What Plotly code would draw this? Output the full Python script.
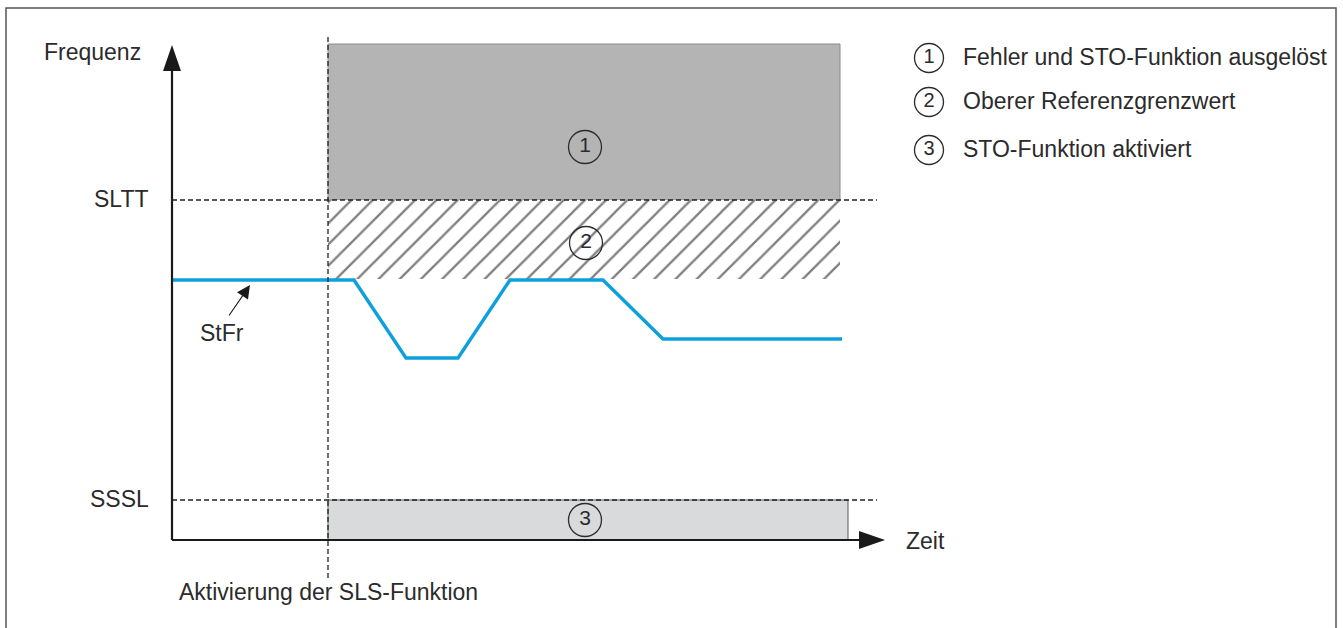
import plotly.graph_objects as go

# ---- data (time units / frequency units; 1 unit ~ 1 px) ----
stfr_t = [0, 182, 234, 286, 338, 431, 491, 670]
stfr_f = [260, 260, 182, 182, 260, 260, 201, 201]

SLTT = 340          # upper limit
SSSL = 40           # standstill limit
T_ACT = 156         # activation of SLS function
T_BAND_END = 668    # end of zones 1 and 2
T_ZONE3_END = 676   # end of zone 3
F_ZONE1_TOP = 496
F_ZONE2_BOTTOM = 261
T_REF_END = 705

level_labels = ["SLTT", "SSSL"]
level_values = [SLTT, SSSL]

zone_ids = ["1", "2", "3"]
zone_t = [413, 414, 413]
zone_f = [393, 297, 20]

legend_ids = ["1", "2", "3"]
legend_texts = ["Fehler und STO-Funktion ausgelöst",
                "Oberer Referenzgrenzwert",
                "STO-Funktion aktiviert"]
legend_f = [482, 438, 390]
LEGEND_T = 757

FONT = "Liberation Sans, Arial, sans-serif"
TXT = "#2b2b2b"
FS = 23

fig = go.Figure()

# zone 1 (dark grey)
fig.add_shape(type="rect", x0=T_ACT, x1=T_BAND_END, y0=SLTT, y1=F_ZONE1_TOP,
              fillcolor="#b3b4b3", line=dict(color="#8c8c8c", width=1), layer="below")
# zone 3 (light grey)
fig.add_shape(type="rect", x0=T_ACT, x1=T_ZONE3_END, y0=0, y1=SSSL,
              fillcolor="#d9dadb", line=dict(color="#5a5a5a", width=1), layer="below")

# zone 2 hatched
fig.add_trace(go.Scatter(
    x=[T_ACT, T_BAND_END, T_BAND_END, T_ACT, T_ACT],
    y=[SLTT, SLTT, F_ZONE2_BOTTOM, F_ZONE2_BOTTOM, SLTT],
    mode="lines", line=dict(width=0), fill="toself",
    fillcolor="white",
    fillpattern=dict(shape="/", fgcolor="#000000", bgcolor="white",
                     size=15, solidity=0.15),
    hoverinfo="skip", showlegend=False))

# StFr line
fig.add_trace(go.Scatter(x=stfr_t, y=stfr_f, mode="lines",
                         line=dict(color="#0ea0dd", width=3.4),
                         showlegend=False, hoverinfo="skip"))

# circled numbers in zones
fig.add_trace(go.Scatter(x=zone_t, y=zone_f, mode="markers+text",
                         text=zone_ids, textposition="middle center",
                         textfont=dict(family=FONT, size=21, color=TXT),
                         marker=dict(symbol="circle-open", size=33,
                                     color="#2b2b2b", line=dict(width=1.3)),
                         showlegend=False, hoverinfo="skip"))

# legend circles + text
fig.add_trace(go.Scatter(x=[LEGEND_T] * 3, y=legend_f, mode="markers+text",
                         text=legend_ids, textposition="middle center",
                         textfont=dict(family=FONT, size=20, color=TXT),
                         marker=dict(symbol="circle-open", size=29,
                                     color="#2b2b2b", line=dict(width=1.3)),
                         showlegend=False, hoverinfo="skip"))
for txt, f in zip(legend_texts, legend_f):
    fig.add_annotation(x=LEGEND_T + 32, y=f + 1, text=txt, showarrow=False,
                       xanchor="left", yanchor="middle",
                       font=dict(family=FONT, size=FS, color=TXT))

# dashed reference lines
for v in level_values:
    fig.add_shape(type="line", x0=0, x1=T_REF_END, y0=v, y1=v,
                  line=dict(color="#222", width=1.3, dash="5px,3px"))
fig.add_shape(type="line", x0=T_ACT, x1=T_ACT, y0=-38, y1=504,
              line=dict(color="#222", width=1.3, dash="5px,3px"))

# axes
Y_TOP, X_END, HEAD, HW = 495, 713, 26, 9
fig.add_shape(type="line", x0=0, x1=0, y0=0, y1=Y_TOP - HEAD,
              line=dict(color="#1a1a1a", width=2.2))
fig.add_shape(type="line", x0=0, x1=X_END - HEAD, y0=0, y1=0,
              line=dict(color="#1a1a1a", width=2.2))
fig.add_shape(type="path",
              path=f"M 0,{Y_TOP} L {-HW},{Y_TOP-HEAD} L {HW},{Y_TOP-HEAD} Z",
              fillcolor="#1a1a1a", line=dict(width=0))
fig.add_shape(type="path",
              path=f"M {X_END},0 L {X_END-HEAD},{-HW} L {X_END-HEAD},{HW} Z",
              fillcolor="#1a1a1a", line=dict(width=0))

# border
fig.add_shape(type="rect", x0=-166, x1=1164, y0=-120, y1=532,
              line=dict(color="#555", width=1.5), fillcolor="rgba(0,0,0,0)")

# labels
fig.add_annotation(x=-80, y=488, text="Frequenz", showarrow=False,
                   font=dict(family=FONT, size=FS, color=TXT))
for lab, v in zip(level_labels, level_values):
    fig.add_annotation(x=-21, y=v + 1, text=lab, showarrow=False,
                       xanchor="right", yanchor="middle",
                       font=dict(family=FONT, size=FS, color=TXT))
fig.add_annotation(x=732, y=-1, text="Zeit", showarrow=False,
                   xanchor="left", yanchor="middle",
                   font=dict(family=FONT, size=FS, color=TXT))
fig.add_annotation(x=5, y=-52, text="Aktivierung der SLS-Funktion", showarrow=False,
                   xanchor="left", yanchor="middle",
                   font=dict(family=FONT, size=FS, color=TXT))
fig.add_annotation(x=50, y=207, text="StFr", showarrow=False,
                   font=dict(family=FONT, size=FS, color=TXT))
fig.add_annotation(x=78, y=255, ax=56, ay=223, axref="x", ayref="y",
                   xref="x", yref="y", text="", showarrow=True,
                   arrowhead=2, arrowsize=2.4, arrowwidth=1.1, arrowcolor="#1a1a1a")

fig.update_layout(
    width=1343, height=628, autosize=False,
    margin=dict(l=0, r=0, t=0, b=0),
    paper_bgcolor="white", plot_bgcolor="white",
    xaxis=dict(range=[-172, 1171], visible=False, fixedrange=True),
    yaxis=dict(range=[-88, 540], visible=False, fixedrange=True),
    showlegend=False,
)

fig.write_html(
    "out.html",
    config={"displayModeBar": False},
    post_script="document.body.style.margin='0';document.body.style.overflow='hidden';",
)
